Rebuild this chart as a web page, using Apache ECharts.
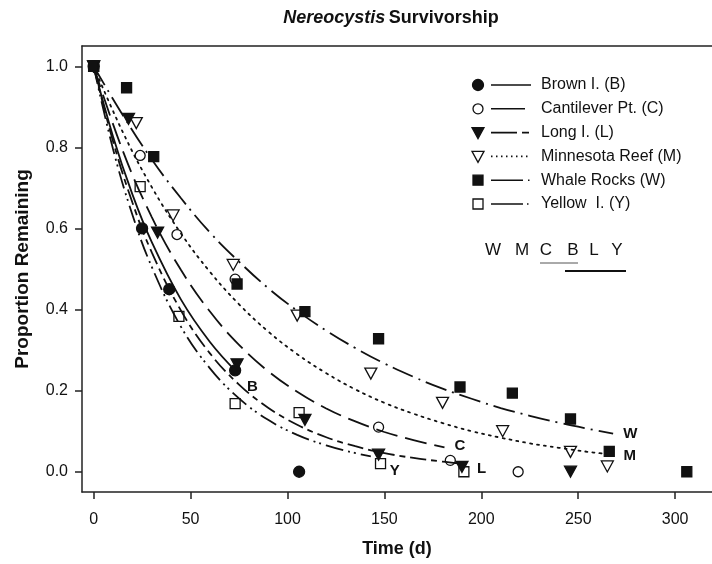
<!DOCTYPE html>
<html>
<head>
<meta charset="utf-8">
<script src="https://cdn.jsdelivr.net/npm/echarts@6/dist/echarts.min.js"></script>
<style>
html,body{margin:0;padding:0;background:#fff;}
#chart{width:712px;height:564px;}
</style>
</head>
<body>
<div id="chart"></div>
<script>
// ---- tick labels ----
const xTicks = [0, 50, 100, 150, 200, 250, 300];
const yTicks = [0, 0.2, 0.4, 0.6, 0.8, 1.0];

// ---- observed points (day, proportion remaining) ----
const brownDays  = [0, 25, 39, 73, 106];
const brownVals  = [1.0, 0.60, 0.45, 0.25, 0.0];
const cantDays   = [0, 24, 43, 73, 147, 184, 219];
const cantVals   = [1.0, 0.78, 0.585, 0.475, 0.11, 0.028, 0.0];
const longDays   = [0, 18, 33, 74, 109, 147, 190, 246];
const longVals   = [1.0, 0.87, 0.59, 0.265, 0.128, 0.042, 0.012, 0.0];
const minnDays   = [0, 22, 41, 72, 105, 143, 180, 211, 246, 265];
const minnVals   = [1.0, 0.86, 0.632, 0.51, 0.385, 0.242, 0.17, 0.10, 0.049, 0.013];
const whaleDays  = [0, 17, 31, 74, 109, 147, 189, 216, 246, 266, 306];
const whaleVals  = [1.0, 0.947, 0.777, 0.463, 0.395, 0.328, 0.209, 0.194, 0.13, 0.05, 0.0];
const yellowDays = [0, 24, 44, 73, 106, 148, 191];
const yellowVals = [1.0, 0.703, 0.383, 0.168, 0.146, 0.02, 0.0];

// ---- fitted curves ----
const fitBDays = [0, 10, 20, 30, 45, 60, 74];
const fitBVals = [1.0, 0.827, 0.684, 0.566, 0.425, 0.32, 0.245];
const fitCDays = [0, 15, 30, 45, 60, 75, 90, 105, 120, 135, 150, 165, 181];
const fitCVals = [1.0, 0.792, 0.628, 0.498, 0.395, 0.313, 0.248, 0.197, 0.156, 0.124, 0.098, 0.078, 0.06];
const fitLDays = [0, 10, 20, 30, 45, 60, 75, 90, 105, 120, 135, 150, 165, 180, 190];
const fitLVals = [1.0, 0.815, 0.664, 0.541, 0.398, 0.292, 0.215, 0.158, 0.116, 0.085, 0.063, 0.046, 0.034, 0.025, 0.02];
const fitMDays = [0, 15, 30, 45, 60, 75, 90, 105, 120, 135, 150, 165, 180, 195, 210, 225, 240, 255, 264];
const fitMVals = [1.0, 0.838, 0.702, 0.588, 0.493, 0.413, 0.346, 0.29, 0.243, 0.203, 0.17, 0.143, 0.12, 0.1, 0.084, 0.07, 0.059, 0.049, 0.044];
const fitWDays = [0, 15, 30, 45, 60, 75, 90, 105, 120, 135, 150, 165, 180, 195, 210, 225, 240, 255, 268];
const fitWVals = [1.0, 0.88, 0.77, 0.675, 0.59, 0.518, 0.453, 0.397, 0.348, 0.305, 0.267, 0.234, 0.205, 0.18, 0.157, 0.138, 0.121, 0.106, 0.094];
const fitYDays = [0, 10, 20, 30, 45, 60, 75, 90, 105, 120, 135, 143];
const fitYVals = [1.0, 0.796, 0.634, 0.505, 0.358, 0.255, 0.181, 0.128, 0.091, 0.065, 0.046, 0.038];

// ---- legend / annotation text ----
const legendNames = ['Brown I. (B)', 'Cantilever Pt. (C)', 'Long I. (L)', 'Minnesota Reef (M)', 'Whale Rocks (W)', 'Yellow  I. (Y)'];
const curveLetters = ['B', 'C', 'L', 'M', 'W', 'Y'];
const groupLetters = ['W', 'M', 'C', 'B', 'L', 'Y'];

const FONT = '"Liberation Sans", Arial, Helvetica, sans-serif';
const INK = '#111';

function pairs(xs, ys) { return xs.map((x, i) => [x, ys[i]]); }

const TRI_DOWN = 'path://M0,0 L10,0 L5,9 Z';

// scatter styles
const markerStyles = [
  { symbol: 'circle', size: 11, fill: INK },
  { symbol: 'circle', size: 10, fill: 'rgba(0,0,0,0)' },
  { symbol: TRI_DOWN, size: [12, 11], fill: INK },
  { symbol: TRI_DOWN, size: [12, 11], fill: 'rgba(0,0,0,0)' },
  { symbol: 'rect', size: 10, fill: INK },
  { symbol: 'rect', size: 10, fill: 'rgba(0,0,0,0)' }
];
const pointSets = [
  pairs(brownDays, brownVals), pairs(cantDays, cantVals), pairs(longDays, longVals),
  pairs(minnDays, minnVals), pairs(whaleDays, whaleVals), pairs(yellowDays, yellowVals)
];
const fitSets = [
  pairs(fitBDays, fitBVals), pairs(fitCDays, fitCVals), pairs(fitLDays, fitLVals),
  pairs(fitMDays, fitMVals), pairs(fitWDays, fitWVals), pairs(fitYDays, fitYVals)
];
const fitDash = ['solid', [22, 8], [16, 5, 6, 5], [2, 5], [22, 6, 2, 6], [18, 5, 2, 4, 2, 5]];
const endOffsets = [[2, 14], [2, -2], [7, 5], [10, 2], [2, 0], [11, 15]];

const series = [];
fitSets.forEach((d, i) => {
  series.push({
    type: 'line', data: d, showSymbol: false, smooth: 0.4, silent: true, z: 2,
    lineStyle: { color: INK, width: 1.8, type: fitDash[i], cap: i === 3 ? 'round' : 'butt' },
    endLabel: { show: true, formatter: curveLetters[i], offset: endOffsets[i], fontFamily: FONT,
      fontWeight: 'bold', fontSize: 15, color: INK }
  });
});
pointSets.forEach((d, i) => {
  const m = markerStyles[i];
  series.push({
    type: 'scatter', data: d, symbol: m.symbol, symbolSize: m.size, z: 5,
    itemStyle: { color: m.fill, borderColor: INK, borderWidth: 1.3, opacity: 1 }
  });
});

// legend graphics
const legX = 478, lineX0 = 491, lineX1 = 531, textX = 541, row0 = 85, rowStep = 23.8;
const legLineDash = [null, null, [26, 5, 7, 100], [1.5, 3.5], [32, 5, 1.5, 100], [32, 4, 1.5, 2.5, 1.5, 100]];
const graphics = [];
legendNames.forEach((name, i) => {
  const y = row0 + i * rowStep;
  const m = markerStyles[i];
  const fill = m.fill;
  const st = { fill: fill, stroke: INK, lineWidth: 1.3 };
  if (i < 2) {
    graphics.push({ type: 'circle', shape: { cx: legX, cy: y, r: i === 0 ? 5.5 : 5 }, style: st });
  } else if (i < 4) {
    graphics.push({ type: 'polygon', shape: { points: [[legX - 6, y - 5], [legX + 6, y - 5], [legX, y + 6]] }, style: st });
  } else {
    graphics.push({ type: 'rect', shape: { x: legX - 5, y: y - 5, width: 10, height: 10 }, style: st });
  }
  graphics.push({ type: 'line', shape: { x1: lineX0, y1: y, x2: lineX1 + (i === 1 ? -6 : 0), y2: y },
    style: { stroke: INK, lineWidth: 1.6, lineDash: legLineDash[i] || null } });
  graphics.push({ type: 'text', x: textX, y: y, style: { text: name, font: '16px ' + FONT, fill: INK,
    textVerticalAlign: 'middle', verticalAlign: 'middle' } });
});
const groupX = [493, 522, 546, 573, 594, 617];
groupLetters.forEach((t, i) => {
  graphics.push({ type: 'text', x: groupX[i], y: 250, style: { text: t, font: '17px ' + FONT, fill: INK,
    align: 'center', textAlign: 'center', verticalAlign: 'middle', textVerticalAlign: 'middle' } });
});
graphics.push({ type: 'line', shape: { x1: 540, y1: 263, x2: 578, y2: 263 }, style: { stroke: '#555', lineWidth: 1 } });
graphics.push({ type: 'line', shape: { x1: 565, y1: 271, x2: 626, y2: 271 }, style: { stroke: INK, lineWidth: 2 } });
// title
graphics.push({ type: 'text', x: 391, y: 18, style: {
  text: '{i|Nereocystis} {b|Survivorship}', align: 'center', textAlign: 'center', verticalAlign: 'middle', textVerticalAlign: 'middle',
  rich: {
    i: { fontFamily: FONT, fontSize: 18, fontWeight: 'bold', fontStyle: 'italic', fill: INK, color: INK },
    b: { fontFamily: FONT, fontSize: 18, fontWeight: 'bold', fill: INK, color: INK }
  } } });

const axisLineStyle = { color: '#222', width: 1.5 };

const option = {
  animation: false,
  backgroundColor: '#fff',
  grid: { left: 82, top: 46, right: -2, bottom: 72, containLabel: false },
  xAxis: [{
    type: 'value', min: -6, max: 319, position: 'bottom',
    axisLine: { show: true, onZero: false, lineStyle: axisLineStyle },
    axisTick: { show: true, customValues: xTicks, length: 7, lineStyle: axisLineStyle },
    axisLabel: { customValues: xTicks, fontSize: 16, color: INK, margin: 20, fontFamily: FONT },
    splitLine: { show: false },
    name: 'Time (d)', nameLocation: 'middle', nameGap: 48,
    nameTextStyle: { fontSize: 18, fontWeight: 'bold', color: INK, fontFamily: FONT }
  }, {
    type: 'value', min: -6, max: 319, position: 'top',
    axisLine: { show: true, onZero: false, lineStyle: axisLineStyle },
    axisTick: { show: false }, axisLabel: { show: false }, splitLine: { show: false }
  }],
  yAxis: [{
    type: 'value', min: -0.05, max: 1.05, position: 'left',
    axisLine: { show: true, onZero: false, lineStyle: axisLineStyle },
    axisTick: { show: true, customValues: yTicks, length: 7, lineStyle: axisLineStyle },
    axisLabel: { customValues: yTicks, fontSize: 16, color: INK, margin: 14, fontFamily: FONT,
      formatter: v => v.toFixed(1) },
    splitLine: { show: false },
    name: 'Proportion Remaining', nameLocation: 'middle', nameGap: 50,
    nameTextStyle: { fontSize: 19, fontWeight: 'bold', color: INK, fontFamily: FONT }
  }],
  series: series,
  graphic: graphics
};

const chart = echarts.init(document.getElementById('chart'), null, { renderer: 'canvas' });
chart.setOption(option);
</script>
</body>
</html>
